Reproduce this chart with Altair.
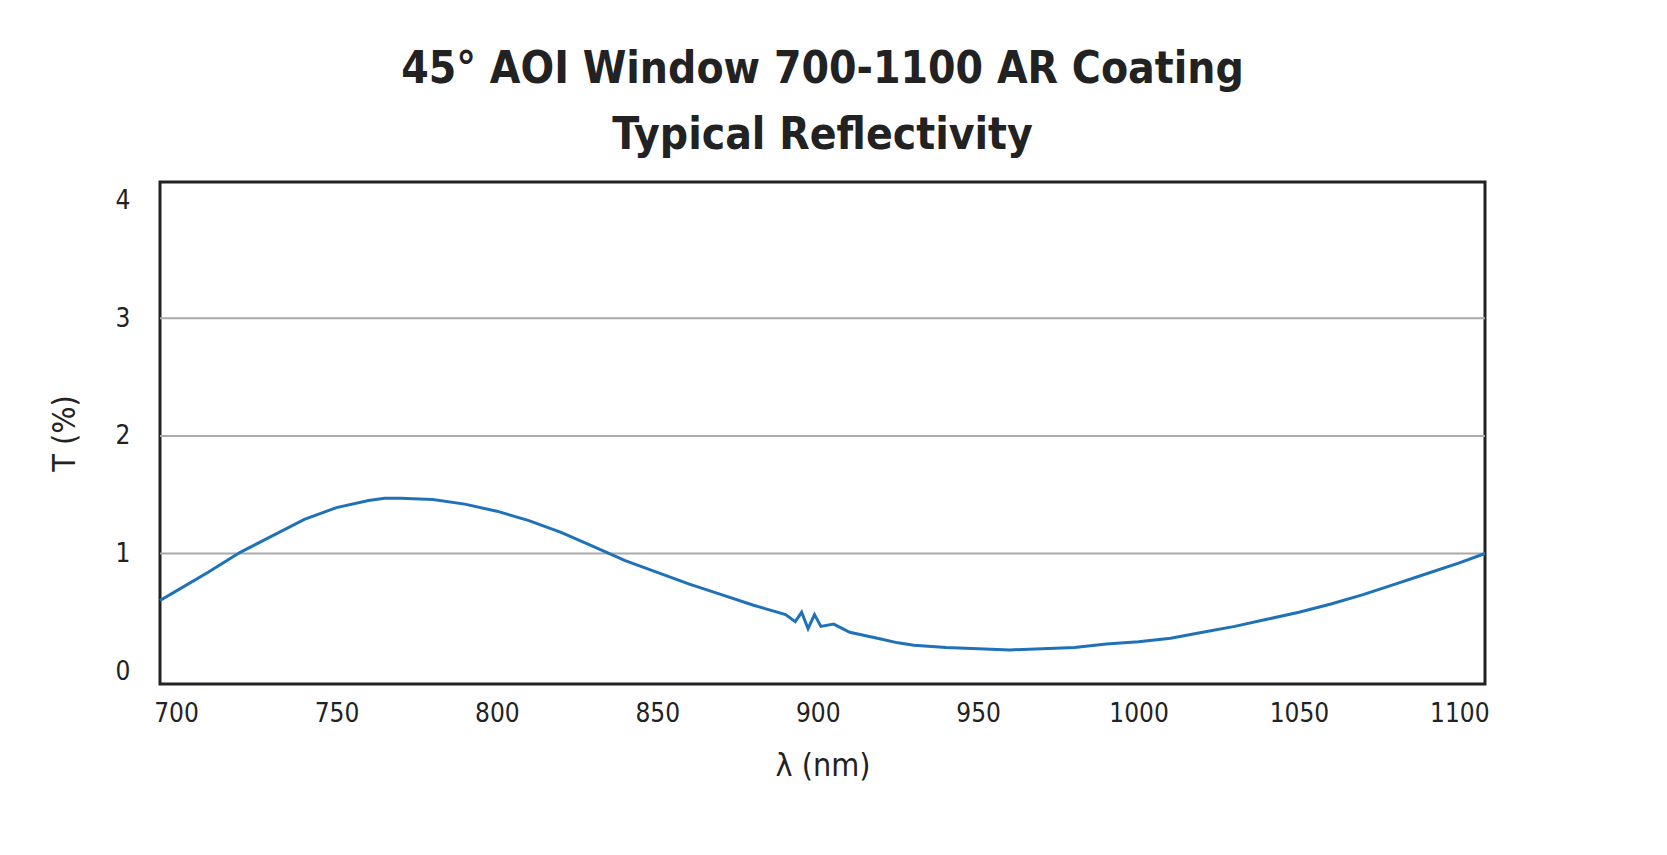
import altair as alt
import pandas as pd

wavelength = [695, 700, 710, 720, 730, 740, 750, 760, 765, 770, 780, 790, 800, 810, 820, 830,
              840, 850, 860, 870, 880, 890, 893, 895, 897, 899, 901, 905, 910, 915, 920, 925,
              930, 940, 950, 960, 970, 980, 990, 1000, 1010, 1020, 1030, 1040, 1050, 1060,
              1070, 1080, 1090, 1100, 1108]
reflect = [0.60, 0.68, 0.84, 1.01, 1.15, 1.29, 1.39, 1.45, 1.47, 1.47, 1.46, 1.42, 1.36, 1.28,
           1.18, 1.06, 0.94, 0.84, 0.74, 0.65, 0.56, 0.48, 0.42, 0.50, 0.36, 0.48, 0.38, 0.40,
           0.33, 0.30, 0.27, 0.24, 0.22, 0.20, 0.19, 0.18, 0.19, 0.20, 0.23, 0.25, 0.28, 0.33,
           0.38, 0.44, 0.50, 0.57, 0.65, 0.74, 0.83, 0.92, 1.00]
grid_vals = [1, 2, 3]

df = pd.DataFrame({"wl": wavelength, "r": reflect})
grid = pd.DataFrame({"g": grid_vals})

font = "DejaVu Sans Condensed"
xs = alt.Scale(domain=[695, 1108], nice=False, zero=False)
ys = alt.Scale(domain=[-0.11, 4.16], nice=False)

rules = alt.Chart(grid).mark_rule(color="#aaaaaa", strokeWidth=2).encode(
    y=alt.Y("g:Q", scale=ys)
)

line = alt.Chart(df).mark_line(color="#1f72b8", strokeWidth=3).encode(
    x=alt.X("wl:Q", scale=xs, title="λ (nm)",
            axis=alt.Axis(values=[700, 750, 800, 850, 900, 950, 1000, 1050, 1100], format="d",
                          grid=False, ticks=False, domain=False, labelPadding=16,
                          labelFontSize=26, titleFontSize=32, titleFontWeight="normal",
                          labelFont=font, titleFont=font, labelColor="#222", titleColor="#222",
                          titlePadding=24)),
    y=alt.Y("r:Q", scale=ys, title="T (%)",
            axis=alt.Axis(values=[0, 1, 2, 3, 4], format="d", grid=False, ticks=False, domain=False,
                          labelPadding=30, labelFontSize=26, titleFontSize=32,
                          titleFontWeight="normal", labelFont=font, titleFont=font,
                          labelColor="#222", titleColor="#222", titlePadding=34))
)

chart = alt.layer(rules, line).properties(
    width=1325, height=502,
    padding={"left": 40, "top": 40, "right": 5, "bottom": 5},
    title=alt.TitleParams(["45° AOI Window 700-1100 AR Coating", "Typical Reflectivity"],
                          font=font, fontSize=44, fontWeight="bold", color="#222",
                          lineHeight=66, offset=24),
    background="white",
).configure_view(stroke="#222", strokeWidth=3)

chart.save("out.html", embed_options={"renderer": "svg", "actions": False})
